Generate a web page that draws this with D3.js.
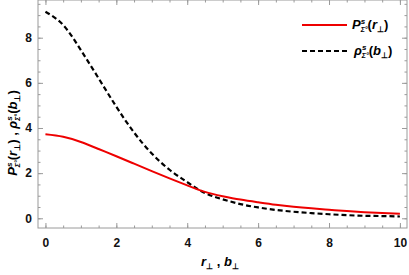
<!DOCTYPE html>
<html>
<head>
<meta charset="utf-8">
<script src="https://cdn.jsdelivr.net/npm/d3@7"></script>
<style>
  body { margin: 0; background: #fff; }
  text { font-family: "Liberation Sans", Arial, sans-serif; font-weight: bold; }
</style>
</head>
<body>
<div id="vis"></div>
<script>
// setting constants
const FRAME_WIDTH = 409;
const FRAME_HEIGHT = 275;
const MARGINS = {left: 38, right: 2, top: 0, bottom: 47};

// data
const rVals = [0, 0.5, 1, 1.5, 2, 2.5, 3, 3.5, 4, 4.5, 5, 5.5, 6, 6.5, 7, 7.5, 8, 8.5, 9, 9.5, 10];
const pVals = [3.72, 3.61, 3.38, 3.07, 2.75, 2.42, 2.09, 1.77, 1.46, 1.17, 0.98, 0.83, 0.71, 0.6, 0.51, 0.44, 0.38, 0.32, 0.27, 0.23, 0.2];
const rhoVals = [9.15, 8.56, 7.45, 6.2, 4.94, 3.8, 2.87, 2.15, 1.6, 1.12, 0.84, 0.63, 0.48, 0.37, 0.29, 0.23, 0.18, 0.14, 0.11, 0.1, 0.08];
const xTicks = [0, 2, 4, 6, 8, 10];
const yTicks = [0, 2, 4, 6, 8];

const VIS_WIDTH = FRAME_WIDTH - MARGINS.left - MARGINS.right;
const VIS_HEIGHT = FRAME_HEIGHT - MARGINS.top - MARGINS.bottom;

const FRAME = d3.select("#vis")
  .append("svg")
    .attr("width", FRAME_WIDTH)
    .attr("height", FRAME_HEIGHT);

// scales
const X_SCALE = d3.scaleLinear().domain([-0.21, 10.2]).range([MARGINS.left, MARGINS.left + VIS_WIDTH]);
const Y_SCALE = d3.scaleLinear().domain([-0.43, 9.67]).range([MARGINS.top + VIS_HEIGHT, MARGINS.top]);

const AX_COL = "#9a9a9a";
const minorX = d3.range(0, 10.01, 0.5);
const minorY = d3.range(0, 9.51, 0.5);

// frame axes, ticks inward like Mathematica
function tickAxis(axis, ticks, tickLen, showLabels) {
  return axis.tickValues(ticks).tickSizeInner(-tickLen).tickSizeOuter(0)
    .tickFormat(showLabels ? d3.format("d") : "");
}

const x0 = MARGINS.left, x1 = MARGINS.left + VIS_WIDTH;
const y0 = MARGINS.top + VIS_HEIGHT, y1 = MARGINS.top;

const axes = [
  {ax: d3.axisBottom, sc: X_SCALE, tr: "translate(0," + y0 + ")", lab: true, maj: xTicks, min: minorX},
  {ax: d3.axisTop, sc: X_SCALE, tr: "translate(0," + y1 + ")", lab: false, maj: xTicks, min: minorX},
  {ax: d3.axisLeft, sc: Y_SCALE, tr: "translate(" + x0 + ",0)", lab: true, maj: yTicks, min: minorY},
  {ax: d3.axisRight, sc: Y_SCALE, tr: "translate(" + x1 + ",0)", lab: false, maj: yTicks, min: minorY}
];

axes.forEach(a => {
  FRAME.append("g").attr("transform", a.tr)
    .call(tickAxis(a.ax(a.sc), a.min, 2.5, false))
    .call(g => g.select(".domain").remove())
    .call(g => g.selectAll("line").attr("stroke", AX_COL));
  const g = FRAME.append("g").attr("transform", a.tr)
    .call(tickAxis(a.ax(a.sc), a.maj, 5, a.lab).tickPadding(a.ax === d3.axisBottom ? 10 : 6));
  g.select(".domain").remove();
  g.selectAll("line").attr("stroke", AX_COL);
  g.selectAll("text").attr("font-size", "12px").attr("font-weight", "bold").attr("fill", "#111")
    .attr("font-family", "Liberation Sans, Arial, sans-serif");
});

FRAME.append("rect")
  .attr("x", x0).attr("y", y1)
  .attr("width", x1 - x0).attr("height", y0 - y1)
  .attr("fill", "none").attr("stroke", AX_COL).attr("stroke-width", 1);

// curves
const line = (vals) => d3.line()
  .x((d, i) => X_SCALE(rVals[i]))
  .y(d => Y_SCALE(d))
  .curve(d3.curveNatural)(vals);

FRAME.append("path")
  .attr("d", line(rhoVals))
  .attr("fill", "none").attr("stroke", "#000").attr("stroke-width", 2.2)
  .attr("stroke-dasharray", "5,3");

FRAME.append("path")
  .attr("d", line(pVals))
  .attr("fill", "none").attr("stroke", "#ee0000").attr("stroke-width", 2);

// label helper: main letter with superscript s and subscript Σ°
function fnLabel(sel, letter, arg) {
  sel.append("tspan").text(letter);
  sel.append("tspan").attr("font-size", "8px").attr("dy", -5).text("s");
  sel.append("tspan").attr("font-size", "7px").attr("dx", -4.5).attr("dy", 8).text("Σ°");
  sel.append("tspan").attr("dy", -3).attr("font-style", "normal").text("(");
  sel.append("tspan").text(arg);
  sel.append("tspan").attr("font-size", "8px").attr("dy", 3).attr("font-style", "normal").text("⊥");
  sel.append("tspan").attr("dy", -3).attr("font-style", "normal").text(")");
}

// legend
const legend = FRAME.append("g");
legend.append("line").attr("x1", 302).attr("x2", 347).attr("y1", 25).attr("y2", 25)
  .attr("stroke", "#ee0000").attr("stroke-width", 2);
legend.append("line").attr("x1", 302).attr("x2", 347).attr("y1", 51).attr("y2", 51)
  .attr("stroke", "#000").attr("stroke-width", 2.2).attr("stroke-dasharray", "5,3");
fnLabel(legend.append("text").attr("x", 352).attr("y", 29).attr("font-size", "13px")
  .attr("font-style", "italic"), "P", "r");
fnLabel(legend.append("text").attr("x", 354).attr("y", 55).attr("font-size", "13px")
  .attr("font-style", "italic"), "ρ", "b");

// y axis title
const yt = FRAME.append("text")
  .attr("transform", "translate(17," + 133 + ") rotate(-90)")
  .attr("text-anchor", "middle").attr("font-size", "13px").attr("font-style", "italic");
fnLabel(yt, "P", "r");
yt.append("tspan").attr("font-style", "normal").text(" , ");
fnLabel(yt, "ρ", "b");

// x axis title
const xt = FRAME.append("text")
  .attr("x", 220).attr("y", 266)
  .attr("text-anchor", "middle").attr("font-size", "13px").attr("font-style", "italic");
xt.append("tspan").text("r");
xt.append("tspan").attr("font-size", "8px").attr("dy", 3).attr("font-style", "normal").text("⊥");
xt.append("tspan").attr("dy", -3).attr("font-style", "normal").text(" , ");
xt.append("tspan").text("b");
xt.append("tspan").attr("font-size", "8px").attr("dy", 3).attr("font-style", "normal").text("⊥");
</script>
</body>
</html>
